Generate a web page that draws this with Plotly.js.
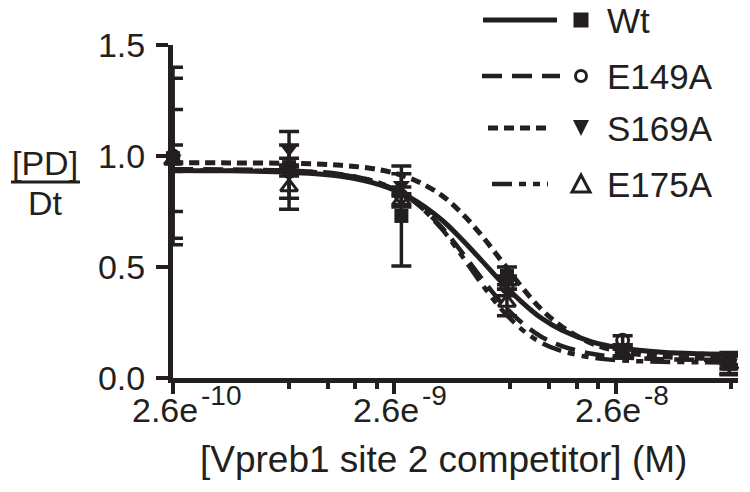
<!DOCTYPE html>
<html>
<head>
<meta charset="utf-8">
<script src="https://cdn.plot.ly/plotly-3.0.1.min.js"></script>
<style>html,body{margin:0;padding:0;background:#fff;}#chart{width:750px;height:492px;}</style>
</head>
<body>
<div id="chart"></div>
<script>
// ---- data ----
var seriesNames = ["Wt", "E149A", "S169A", "E175A"];
var concentration = [2.6e-10, 8.7e-10, 2.8e-9, 8.4e-9, 2.8e-8, 8.5e-8];

var wtMean    = [0.99, 0.95, 0.73, 0.46, 0.12, 0.065];
var wtErr     = [0.06, 0.04, 0.225, 0.04, 0.03, 0.05];
var e149aMean = [1.00, 0.93, 0.82, 0.41, 0.17, 0.08];
var e149aErr  = [0.40, 0.12, 0.04, 0.04, 0.02, 0.02];
var s169aMean = [0.99, 1.03, 0.87, 0.43, 0.12, 0.07];
var s169aErr  = [0.36, 0.08, 0.05, 0.03, 0.02, 0.03];
var e175aMean = [0.98, 0.86, 0.80, 0.34, 0.11, 0.06];
var e175aErr  = [0.23, 0.10, 0.03, 0.06, 0.02, 0.04];

// fitted curves, values
var curveX = [2.6e-10, 4.72e-10, 8.83e-10, 1.49e-9, 2.26e-9, 3.10e-9, 4.24e-9, 5.22e-9, 6.43e-9,
              7.93e-9, 9.78e-9, 1.20e-8, 1.49e-8, 2.03e-8, 2.78e-8, 4.22e-8, 6.42e-8, 8.6e-8];
var wtFit    = [0.935, 0.933, 0.927, 0.909, 0.869, 0.810, 0.714, 0.627, 0.531, 0.432, 0.343, 0.270, 0.215, 0.163, 0.134, 0.116, 0.109, 0.107];
var e149aFit = [0.940, 0.939, 0.934, 0.918, 0.876, 0.805, 0.681, 0.570, 0.451, 0.339, 0.250, 0.186, 0.144, 0.109, 0.093, 0.085, 0.082, 0.081];
var s169aFit = [0.970, 0.969, 0.967, 0.958, 0.937, 0.898, 0.824, 0.745, 0.644, 0.528, 0.411, 0.310, 0.231, 0.156, 0.118, 0.097, 0.089, 0.087];
var e175aFit = [0.935, 0.934, 0.931, 0.917, 0.877, 0.806, 0.674, 0.554, 0.426, 0.310, 0.220, 0.159, 0.121, 0.092, 0.079, 0.073, 0.071, 0.070];

var xTickVals = [2.6e-10, 2.6e-9, 2.6e-8];
var xTickBase = ["2.6e", "2.6e", "2.6e"];
var xTickExp  = ["-10", "-9", "-8"];
var xMinorVals = [8.67e-10, 1.3e-9, 1.733e-9, 2.167e-9, 8.67e-9, 1.3e-8, 1.733e-8, 2.167e-8, 8.67e-8];
var yTickVals = [0, 0.5, 1.0, 1.5];
var yTickText = ["0.0", "0.5", "1.0", "1.5"];

// ---- styling ----
var INK = "#231f20";
var FONT = "Liberation Sans, Arial, Helvetica, sans-serif";
var W = 750, H = 492;
function px(x) { return x / W; }
function py(y) { return 1 - y / H; }

var styles = [
  {dash: "solid",                    lw: 5,   symbol: "square",          size: 14, mlw: 0},
  {dash: "20px,10px",                lw: 4.5, symbol: "circle-open",     size: 12, mlw: 3},
  {dash: "10px,6px",                 lw: 5,   symbol: "triangle-down",   size: 15, mlw: 0},
  {dash: "20px,7px,7px,7px,7px,7px", lw: 4.5, symbol: "triangle-up-open",size: 15, mlw: 3}
];
var means = [wtMean, e149aMean, s169aMean, e175aMean];
var errs  = [wtErr, e149aErr, s169aErr, e175aErr];
var fits  = [wtFit, e149aFit, s169aFit, e175aFit];

var traces = [];
for (var i = 0; i < 4; i++) {
  traces.push({
    x: curveX, y: fits[i], type: "scatter", mode: "lines",
    line: {color: INK, width: styles[i].lw, dash: styles[i].dash, shape: "spline", smoothing: 1},
    name: seriesNames[i] + " fit", showlegend: false, hoverinfo: "skip", cliponaxis: false
  });
}
for (var j = 0; j < 4; j++) {
  traces.push({
    x: concentration, y: means[j], type: "scatter", mode: "markers",
    marker: {symbol: styles[j].symbol, size: styles[j].size, color: INK,
             line: {color: INK, width: styles[j].mlw}},
    error_y: {type: "data", array: errs[j], visible: true, color: INK, thickness: 3.5, width: 10},
    name: seriesNames[j], showlegend: false, cliponaxis: false
  });
}

var shapes = [];
var annotations = [];

// ---- x tick labels with large superscript exponents ----
for (var t = 0; t < xTickVals.length; t++) {
  annotations.push({xref: "x", yref: "paper", x: Math.log10(xTickVals[t]), y: py(410), xshift: 27,
    xanchor: "right", yanchor: "middle", text: xTickBase[t], showarrow: false,
    font: {family: FONT, size: 34, color: INK}});
  annotations.push({xref: "x", yref: "paper", x: Math.log10(xTickVals[t]), y: py(395), xshift: 26,
    xanchor: "left", yanchor: "middle", text: xTickExp[t], showarrow: false,
    font: {family: FONT, size: 28, color: INK}});
}

// ---- custom legend (line sample, marker, label) ----
var legendRows = [20, 76, 128, 184];
var legendLine = [[483, 557], [482, 560], [488, 552], [492, 548]];
for (var k = 0; k < 4; k++) {
  var yy = legendRows[k];
  shapes.push({type: "line", xref: "paper", yref: "paper",
    x0: px(legendLine[k][0]), x1: px(legendLine[k][1]), y0: py(yy), y1: py(yy),
    line: {color: INK, width: styles[k].lw, dash: styles[k].dash}});
  annotations.push({xref: "paper", yref: "paper", x: px(605), y: py(yy), xanchor: "left", yanchor: "middle",
    text: seriesNames[k], showarrow: false, font: {family: FONT, size: 35, color: INK}});
}
var mx = 581;
shapes.push({type: "rect", xref: "paper", yref: "paper", x0: px(mx - 7.5), x1: px(mx + 7.5),
  y0: py(legendRows[0] - 7.5), y1: py(legendRows[0] + 7.5), fillcolor: INK, line: {width: 0}});
shapes.push({type: "circle", xref: "paper", yref: "paper", x0: px(mx - 5.5), x1: px(mx + 5.5),
  y0: py(legendRows[1] - 5.5), y1: py(legendRows[1] + 5.5), line: {color: INK, width: 3}});
var t3 = legendRows[2];
shapes.push({type: "path", xref: "paper", yref: "paper",
  path: "M " + px(mx - 8) + "," + py(t3 - 8) + " L " + px(mx + 8) + "," + py(t3 - 8) + " L " + px(mx) + "," + py(t3 + 8) + " Z",
  fillcolor: INK, line: {width: 0}});
var t4 = legendRows[3];
shapes.push({type: "path", xref: "paper", yref: "paper",
  path: "M " + px(mx - 9) + "," + py(t4 + 8) + " L " + px(mx + 9) + "," + py(t4 + 8) + " L " + px(mx) + "," + py(t4 - 9) + " Z",
  line: {color: INK, width: 3}});

// y-axis title as a fraction [PD]/Dt
annotations.push({xref: "paper", yref: "paper", x: px(45), y: py(163), xanchor: "center", yanchor: "middle",
  text: "[PD]", showarrow: false, font: {family: FONT, size: 34, color: INK}});
annotations.push({xref: "paper", yref: "paper", x: px(45), y: py(203), xanchor: "center", yanchor: "middle",
  text: "Dt", showarrow: false, font: {family: FONT, size: 34, color: INK}});
shapes.push({type: "line", xref: "paper", yref: "paper", x0: px(11), x1: px(80), y0: py(182), y1: py(182),
  line: {color: INK, width: 3}});
// x-axis title
annotations.push({xref: "paper", yref: "paper", x: px(443), y: py(459), xanchor: "center", yanchor: "middle",
  text: "[Vpreb1 site 2 competitor] (M)", showarrow: false, font: {family: FONT, size: 37, color: INK}});

var layout = {
  width: W, height: H,
  margin: {l: 0, r: 0, t: 0, b: 0, pad: 0},
  paper_bgcolor: "#fff", plot_bgcolor: "#fff",
  showlegend: false,
  font: {family: FONT, color: INK},
  xaxis: {
    type: "log", domain: [173 / W, 738 / W],
    range: [Math.log10(2.6e-10), Math.log10(9.3e-8)],
    tickmode: "array", tickvals: xTickVals, showticklabels: false,
    ticks: "outside", ticklen: 11, tickwidth: 4, tickcolor: INK,
    minor: {tickmode: "array", tickvals: xMinorVals, ticks: "outside", ticklen: 6, tickwidth: 4, tickcolor: INK, showgrid: false},
    showline: true, linewidth: 5, linecolor: INK, showgrid: false, zeroline: false
  },
  yaxis: {
    domain: [(H - 378) / H, (H - 45) / H],
    range: [0, 1.5],
    tickmode: "array", tickvals: yTickVals, ticktext: yTickText,
    ticks: "outside", ticklen: 12, tickwidth: 4, tickcolor: INK,
    showline: true, linewidth: 5, linecolor: INK, showgrid: false, zeroline: false,
    tickfont: {family: FONT, size: 34, color: INK}, ticklabelstandoff: 4
  },
  shapes: shapes,
  annotations: annotations
};

Plotly.newPlot("chart", traces, layout, {staticPlot: true, displayModeBar: false});
</script>
</body>
</html>
